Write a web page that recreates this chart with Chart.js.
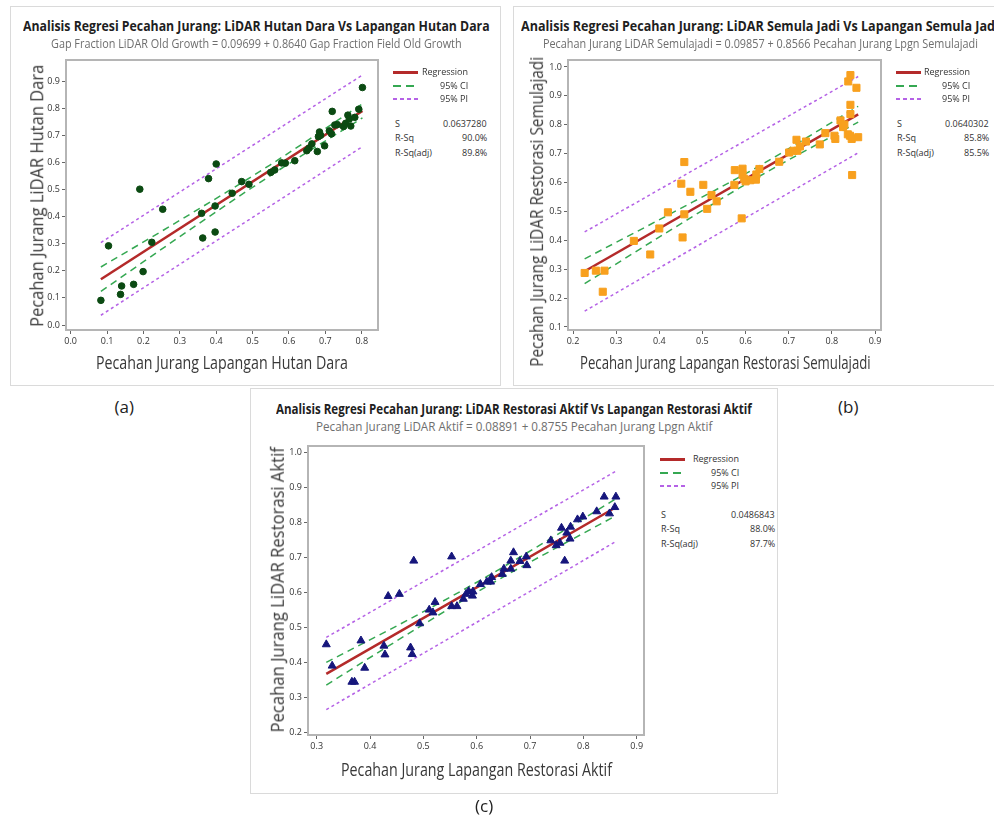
<!DOCTYPE html>
<html>
<head>
<meta charset="utf-8">
<script src="https://cdn.jsdelivr.net/npm/chart.js@4.4.1/dist/chart.umd.min.js"></script>
<style>
html, body { margin: 0; padding: 0; background: #fff; width: 994px; height: 819px; overflow: hidden; position: relative; font-family: 'Open Sans', sans-serif; }
.kotak { position: absolute; border: 1px solid #dadada; box-sizing: border-box; }
canvas { position: absolute; }
.t { position: absolute; white-space: nowrap; line-height: 1.2; transform-origin: 0 50%; }
.sw { position: absolute; height: 2px; }
</style>
</head>
<body>
<script>
// (a) Hutan Dara
const lapanganHD = [0.083, 0.104, 0.137, 0.140, 0.173, 0.190, 0.199, 0.223, 0.253, 0.360, 0.363, 0.379, 0.397, 0.397, 0.400, 0.444, 0.470, 0.490, 0.550, 0.561, 0.580, 0.590, 0.616, 0.649, 0.655, 0.663, 0.678, 0.681, 0.684, 0.687, 0.698, 0.711, 0.717, 0.719, 0.726, 0.733, 0.750, 0.756, 0.762, 0.766, 0.770, 0.781, 0.792, 0.802];
const lidarHD    = [0.091, 0.292, 0.113, 0.144, 0.150, 0.501, 0.197, 0.305, 0.427, 0.412, 0.321, 0.540, 0.439, 0.343, 0.594, 0.486, 0.529, 0.519, 0.563, 0.572, 0.598, 0.597, 0.606, 0.643, 0.652, 0.668, 0.640, 0.695, 0.712, 0.700, 0.661, 0.716, 0.705, 0.788, 0.738, 0.739, 0.732, 0.744, 0.774, 0.760, 0.734, 0.766, 0.796, 0.876];
const regHD_x = [0.083, 0.802];
const regHD_y = [0.169, 0.790];
const ciHD_x = [0.083, 0.30, 0.55, 0.802];
const ciHD_atas = [0.214, 0.386, 0.592, 0.816];
const ciHD_bawah = [0.124, 0.326, 0.552, 0.764];
const piHD_x = [0.083, 0.802];
const piHD_atas = [0.304, 0.922];
const piHD_bawah = [0.036, 0.658];
const tickHD_x = [0.0, 0.1, 0.2, 0.3, 0.4, 0.5, 0.6, 0.7, 0.8];
const tickHD_y = [0.0, 0.1, 0.2, 0.3, 0.4, 0.5, 0.6, 0.7, 0.8, 0.9];
const statHD = ['0.0637280', '90.0%', '89.8%'];

// (b) Semula Jadi
const lapanganSJ = [0.227, 0.253, 0.273, 0.269, 0.341, 0.379, 0.400, 0.420, 0.451, 0.454, 0.458, 0.458, 0.472, 0.502, 0.511, 0.521, 0.533, 0.574, 0.575, 0.591, 0.593, 0.593, 0.597, 0.600, 0.611, 0.624, 0.625, 0.632, 0.678, 0.701, 0.711, 0.718, 0.720, 0.726, 0.740, 0.772, 0.785, 0.806, 0.808, 0.820, 0.826, 0.829, 0.838, 0.843, 0.843, 0.843, 0.837, 0.842, 0.846, 0.847, 0.857, 0.861];
const lidarSJ    = [0.287, 0.295, 0.295, 0.222, 0.398, 0.351, 0.441, 0.497, 0.596, 0.410, 0.490, 0.671, 0.568, 0.592, 0.509, 0.557, 0.535, 0.592, 0.643, 0.476, 0.648, 0.627, 0.613, 0.604, 0.608, 0.610, 0.628, 0.647, 0.672, 0.704, 0.710, 0.748, 0.710, 0.725, 0.742, 0.732, 0.771, 0.762, 0.751, 0.815, 0.792, 0.801, 0.950, 0.972, 0.869, 0.837, 0.767, 0.762, 0.751, 0.626, 0.928, 0.757];
const regSJ_x = [0.227, 0.861];
const regSJ_y = [0.293, 0.836];
const ciSJ_x = [0.227, 0.43, 0.63, 0.861];
const ciSJ_atas = [0.336, 0.495, 0.656, 0.864];
const ciSJ_bawah = [0.250, 0.439, 0.620, 0.809];
const piSJ_x = [0.227, 0.861];
const piSJ_atas = [0.429, 0.967];
const piSJ_bawah = [0.155, 0.703];
const tickSJ_x = [0.2, 0.3, 0.4, 0.5, 0.6, 0.7, 0.8, 0.9];
const tickSJ_y = [0.1, 0.2, 0.3, 0.4, 0.5, 0.6, 0.7, 0.8, 0.9, 1.0];
const statSJ = ['0.0640302', '85.8%', '85.5%'];

// (c) Restorasi Aktif
const lapanganRA = [0.318, 0.329, 0.366, 0.371, 0.383, 0.390, 0.426, 0.428, 0.434, 0.455, 0.476, 0.479, 0.482, 0.493, 0.511, 0.518, 0.522, 0.553, 0.553, 0.563, 0.575, 0.580, 0.585, 0.592, 0.593, 0.607, 0.619, 0.626, 0.628, 0.648, 0.651, 0.664, 0.664, 0.669, 0.681, 0.693, 0.694, 0.739, 0.749, 0.756, 0.759, 0.765, 0.769, 0.775, 0.776, 0.789, 0.799, 0.825, 0.839, 0.849, 0.859, 0.861];
const lidarRA    = [0.451, 0.390, 0.344, 0.344, 0.462, 0.384, 0.447, 0.422, 0.589, 0.595, 0.442, 0.423, 0.690, 0.511, 0.550, 0.542, 0.572, 0.702, 0.560, 0.560, 0.581, 0.595, 0.603, 0.590, 0.602, 0.623, 0.630, 0.630, 0.643, 0.652, 0.667, 0.667, 0.690, 0.714, 0.689, 0.702, 0.677, 0.748, 0.734, 0.741, 0.784, 0.690, 0.770, 0.753, 0.787, 0.808, 0.816, 0.831, 0.873, 0.825, 0.843, 0.873];
const regRA_x = [0.318, 0.861];
const regRA_y = [0.367, 0.843];
const ciRA_x = [0.318, 0.47, 0.62, 0.861];
const ciRA_atas = [0.400, 0.520, 0.646, 0.867];
const ciRA_bawah = [0.335, 0.480, 0.618, 0.819];
const piRA_x = [0.318, 0.861];
const piRA_atas = [0.471, 0.946];
const piRA_bawah = [0.265, 0.745];
const tickRA_x = [0.3, 0.4, 0.5, 0.6, 0.7, 0.8, 0.9];
const tickRA_y = [0.2, 0.3, 0.4, 0.5, 0.6, 0.7, 0.8, 0.9, 1.0];
const statRA = ['0.0486843', '88.0%', '87.7%'];

const WARNA = {
    reg: '#b42a2a',
    ci: '#35a852',
    pi: '#b562e6',
    hd: '#0b4a12',
    sj: '#f8a01e',
    ra: '#16167c'
};

function kotak(l, t, w, h) {
    const d = document.createElement('div');
    d.className = 'kotak';
    Object.assign(d.style, { left: l + 'px', top: t + 'px', width: w + 'px', height: h + 'px' });
    document.body.appendChild(d);
}

// text placed at (x, y centre), squeezed to width w if given
function tulis(teks, x, y, o) {
    const el = document.createElement('div');
    el.className = 't';
    el.textContent = teks;
    el.style.fontSize = (o.size || 9) + 'px';
    el.style.fontWeight = o.bold ? 'bold' : 'normal';
    el.style.color = o.color || '#333';
    el.style.fontFamily = o.font || "'Open Sans', sans-serif";
    document.body.appendChild(el);
    const nat = el.offsetWidth, h = el.offsetHeight;
    const sx = o.w ? o.w / nat : 1;
    if (o.rot) {
        el.style.left = (x - nat / 2) + 'px';
        el.style.top = (y - h / 2) + 'px';
        el.style.transformOrigin = '50% 50%';
        el.style.transform = `rotate(-90deg) scaleX(${sx})`;
        return;
    }
    const w = nat * sx;
    const left = o.align === 'center' ? x - w / 2 : o.align === 'right' ? x - w : x;
    el.style.left = left + 'px';
    el.style.top = (y - h / 2) + 'px';
    el.style.transform = `scaleX(${sx})`;
}

function swatch(x, y, w, jenis) {
    const d = document.createElement('div');
    d.className = 'sw';
    d.style.left = x + 'px';
    d.style.width = w + 'px';
    if (jenis === 'reg') {
        d.style.top = (y - 1.5) + 'px'; d.style.height = '3px'; d.style.background = WARNA.reg;
    } else if (jenis === 'ci') {
        d.style.top = (y - 1) + 'px';
        d.style.background = `repeating-linear-gradient(to right, ${WARNA.ci} 0 8px, transparent 8px 13px)`;
    } else {
        d.style.top = (y - 1) + 'px';
        d.style.background = `repeating-linear-gradient(to right, ${WARNA.pi} 0 4px, transparent 4px 7px)`;
    }
    document.body.appendChild(d);
}

function legenda(x0, xr, xs, xv, y0, ys, stat) {
    swatch(x0, y0, 25, 'reg'); tulis('Regression', xr, y0, { align: 'right', size: 9 });
    swatch(x0, y0 + 14, 25, 'ci'); tulis('95% CI', xr, y0 + 14, { align: 'right', size: 9 });
    swatch(x0, y0 + 27, 25, 'pi'); tulis('95% PI', xr, y0 + 27, { align: 'right', size: 9 });
    ['S', 'R-Sq', 'R-Sq(adj)'].forEach((lbl, i) => {
        tulis(lbl, xs, ys + i * 14.5, { size: 9 });
        tulis(stat[i], xv, ys + i * 14.5, { align: 'right', size: 9 });
    });
}

const framePlugin = {
    id: 'bingkai',
    afterDraw(chart) {
        const { ctx, chartArea: a } = chart;
        ctx.save();
        ctx.strokeStyle = '#b5b5b5';
        ctx.lineWidth = 2;
        ctx.strokeRect(a.left, a.top, a.right - a.left, a.bottom - a.top);
        ctx.restore();
    }
};

const pasang = (xs, ys) => xs.map((x, i) => ({ x, y: ys[i] }));

function sumbu(min, max, ticks, isX) {
    return {
        type: 'linear', min, max,
        afterFit: s => { if (isX) s.height = 24; else s.width = 34; },
        afterBuildTicks: s => { s.ticks = ticks.map(v => ({ value: v })); },
        grid: { drawOnChartArea: false, drawTicks: true, tickLength: 4, color: '#666' },
        border: { display: false },
        ticks: { autoSkip: false, maxRotation: 0, padding: 2, color: '#333', font: { size: 9, family: 'Open Sans' }, callback: v => Number(v).toFixed(1) }
    };
}

function grafik(c) {
    const f = c.frame;
    const cv = document.createElement('canvas');
    const w = f.r - f.l + 34 + 14, h = f.b - f.t + 10 + 24;
    cv.width = w; cv.height = h;
    Object.assign(cv.style, { left: (f.l - 34) + 'px', top: (f.t - 10) + 'px', width: w + 'px', height: h + 'px' });
    document.body.appendChild(cv);
    const garis = (data, warna, lebar, dash) => ({ type: 'line', data, borderColor: warna, borderWidth: lebar, borderDash: dash, pointRadius: 0, fill: false, cubicInterpolationMode: 'monotone' });
    new Chart(cv, {
        type: 'scatter',
        data: {
            datasets: [
                { data: pasang(c.x, c.y), pointStyle: c.marker, pointRadius: c.r, backgroundColor: c.warna, borderColor: c.warna, borderWidth: 1 },
                garis(pasang(c.regX, c.regY), WARNA.reg, 2.5, []),
                garis(pasang(c.ciX, c.ciUp), WARNA.ci, 1.5, [7, 5]),
                garis(pasang(c.ciX, c.ciLo), WARNA.ci, 1.5, [7, 5]),
                garis(pasang(c.piX, c.piUp), WARNA.pi, 1.5, [3, 3]),
                garis(pasang(c.piX, c.piLo), WARNA.pi, 1.5, [3, 3])
            ]
        },
        options: {
            responsive: false,
            animation: false,
            layout: { padding: { top: 10, right: 14, left: 0, bottom: 0 } },
            plugins: { legend: { display: false }, tooltip: { enabled: false } },
            scales: { x: sumbu(c.xmin, c.xmax, c.tx, true), y: sumbu(c.ymin, c.ymax, c.ty, false) }
        },
        plugins: [framePlugin]
    });
}

// panel boxes
kotak(10, 6, 491, 380);
kotak(513, 6, 500, 380);
kotak(250, 388, 528, 406);

// (a)
grafik({ frame: { l: 66, r: 378, t: 60, b: 330 }, x: lapanganHD, y: lidarHD, marker: 'circle', r: 3.3, warna: WARNA.hd,
    regX: regHD_x, regY: regHD_y, ciX: ciHD_x, ciUp: ciHD_atas, ciLo: ciHD_bawah, piX: piHD_x, piUp: piHD_atas, piLo: piHD_bawah,
    xmin: -0.0129, xmax: 0.8448, ymin: -0.0184, ymax: 0.9775, tx: tickHD_x, ty: tickHD_y });
tulis('Analisis Regresi Pecahan Jurang: LiDAR Hutan Dara Vs Lapangan Hutan Dara', 256, 26, { align: 'center', w: 467, size: 14, bold: true, color: '#1e1e1e' });
tulis('Gap Fraction LiDAR Old Growth = 0.09699 + 0.8640 Gap Fraction Field Old Growth', 256, 44, { align: 'center', w: 411, size: 12, color: '#6e6e6e' });
tulis('Pecahan Jurang LiDAR Hutan Dara', 37, 196, { rot: true, w: 262, size: 18, color: '#383838' });
tulis('Pecahan Jurang Lapangan Hutan Dara', 222, 363, { align: 'center', w: 252, size: 18, color: '#383838' });
legenda(393, 468, 395, 487, 72, 124, statHD);
tulis('(a)', 124, 407, { align: 'center', size: 17, color: '#222' });

// (b)
grafik({ frame: { l: 568, r: 881, t: 60, b: 330 }, x: lapanganSJ, y: lidarSJ, marker: 'rect', r: 5, warna: WARNA.sj,
    regX: regSJ_x, regY: regSJ_y, ciX: ciSJ_x, ciUp: ciSJ_atas, ciLo: ciSJ_bawah, piX: piSJ_x, piUp: piSJ_atas, piLo: piSJ_bawah,
    xmin: 0.1884, xmax: 0.9139, ymin: 0.0896, ymax: 1.0242, tx: tickSJ_x, ty: tickSJ_y });
tulis('Analisis Regresi  Pecahan Jurang: LiDAR Semula Jadi Vs Lapangan Semula Jadi', 521, 26, { w: 478, size: 14, bold: true, color: '#1e1e1e' });
tulis('Pecahan Jurang LiDAR Semulajadi = 0.09857 + 0.8566 Pecahan Jurang Lpgn Semulajadi', 760, 44, { align: 'center', w: 435, size: 12, color: '#6e6e6e' });
tulis('Pecahan Jurang LiDAR Restorasi Semulajadi', 537, 212, { rot: true, w: 310, size: 18, color: '#383838' });
tulis('Pecahan Jurang Lapangan Restorasi Semulajadi', 725, 363, { align: 'center', w: 291, size: 18, color: '#383838' });
legenda(896, 970, 897, 989, 72, 124, statSJ);
tulis('(b)', 848, 407, { align: 'center', size: 17, color: '#222' });

// (c)
grafik({ frame: { l: 308, r: 644, t: 446, b: 735 }, x: lapanganRA, y: lidarRA, marker: 'triangle', r: 4.6, warna: WARNA.ra,
    regX: regRA_x, regY: regRA_y, ciX: ciRA_x, ciUp: ciRA_atas, ciLo: ciRA_bawah, piX: piRA_x, piUp: piRA_atas, piLo: piRA_bawah,
    xmin: 0.2837, xmax: 0.9137, ymin: 0.1923, ymax: 1.018, tx: tickRA_x, ty: tickRA_y });
tulis('Analisis Regresi Pecahan Jurang: LiDAR Restorasi Aktif Vs Lapangan Restorasi Aktif', 514, 409, { align: 'center', w: 476, size: 14, bold: true, color: '#1e1e1e' });
tulis('Pecahan Jurang LiDAR Aktif = 0.08891 + 0.8755 Pecahan Jurang Lpgn Aktif', 514, 427, { align: 'center', w: 396, size: 12, color: '#6e6e6e' });
tulis('Pecahan Jurang LiDAR Restorasi Aktif', 277, 590, { rot: true, w: 285, size: 18, color: '#383838' });
tulis('Pecahan Jurang Lapangan Restorasi Aktif', 476, 770, { align: 'center', w: 271, size: 18, color: '#383838' });
legenda(660, 739, 661, 775, 459, 515, statRA);
tulis('(c)', 484, 806, { align: 'center', size: 17, color: '#222' });
</script>
</body>
</html>
